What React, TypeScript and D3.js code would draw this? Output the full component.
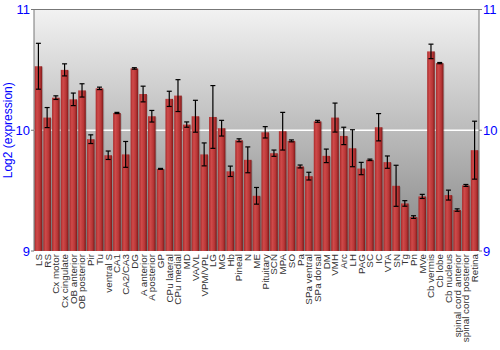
import React from "react";
import * as d3 from "d3";

const categories = ["LS","RS","Cx motor","Cx cingulate","OB anterior","OB posterior","Pir","Tu","ventral S","CA1","CA2/CA3","DG","A anterior","A posterior","GP","CPu lateral","CPu medial","MD","VA/VL","VPM/VPL","LG","MG","Hb","Pineal","N","ME","Pituitary","SCN","MPA","SO","Pa","SPa ventral","SPa dorsal","DM","VMH","Arc","LH","PAG","SC","IC","VTA","SN","Tg","Pn","MVe","Cb vermis","Cb lobe","Cb nucleus","spinal cord anterior","spinal cord posterior","Retina"];
const values = [10.53,10.105,10.27,10.5,10.256,10.33,9.926,10.347,9.793,10.143,9.8,10.512,10.3,10.116,9.68,10.26,10.287,10.047,10.116,9.8,10.11,10.017,9.66,9.917,9.755,9.457,9.983,9.81,9.992,9.912,9.7,9.62,10.074,9.788,10.105,9.953,9.851,9.683,9.755,10.025,9.736,9.54,9.394,9.281,9.452,10.653,10.556,9.463,9.339,9.543,9.835];
const errors = [0.19,0.083,0.015,0.05,0.052,0.055,0.036,0.01,0.035,0.005,0.107,0.006,0.065,0.048,0.004,0.063,0.132,0.022,0.132,0.095,0.26,0.065,0.043,0.012,0.107,0.069,0.047,0.026,0.156,0.008,0.012,0.032,0.008,0.056,0.12,0.072,0.153,0.051,0.006,0.113,0.051,0.17,0.023,0.011,0.017,0.06,0.005,0.041,0.01,0.008,0.24];
const yTicks = [9, 10, 11];

export default function App() {
  const W = 500, H = 350;
  const left = 34, right = 479, top = 9.5, bottom = 251;
  const x = d3.scaleBand<string>().domain(categories).range([left, right]).paddingInner(0.13).paddingOuter(0.07);
  const y = d3.scaleLinear().domain([9, 11]).range([bottom, top]);
  const font = "Liberation Sans, Arial, sans-serif";
  return (
    <svg width={W} height={H} style={{ position: "absolute", left: 0, top: 0, background: "#fff" }}>
      <defs>
        <linearGradient id="bg" x1="0" y1="0" x2="0" y2="1">
          <stop offset="0" stopColor="#f2f2f2" />
          <stop offset="1" stopColor="#858585" />
        </linearGradient>
        <linearGradient id="bar" x1="0" y1="0" x2="1" y2="0">
          <stop offset="0" stopColor="#a82a2a" />
          <stop offset="0.3" stopColor="#cf4a4a" />
          <stop offset="0.7" stopColor="#b83636" />
          <stop offset="1" stopColor="#7e1818" />
        </linearGradient>
      </defs>
      <rect x={left} y={top} width={right - left} height={bottom - top} fill="url(#bg)" />
      <line x1={left} x2={right} y1={y(10)} y2={y(10)} stroke="#fff" strokeWidth={1.5} />
      {categories.map((c, i) => {
        const bx = x(c)!;
        const bw = x.bandwidth();
        const yt = y(values[i]);
        const cx = bx + bw / 2;
        const e1 = y(values[i] + errors[i]);
        const e2 = y(values[i] - errors[i]);
        return (
          <g key={c}>
            <rect x={bx + 1} y={yt + 1} width={bw} height={bottom - yt - 1} fill="#000" opacity={0.15} />
            <rect x={bx} y={yt} width={bw} height={bottom - yt} fill="url(#bar)" />
            <line x1={cx} x2={cx} y1={e1} y2={e2} stroke="#000" strokeWidth={1.2} />
            <line x1={cx - 2.5} x2={cx + 2.5} y1={e1} y2={e1} stroke="#000" strokeWidth={1.2} />
            <line x1={cx - 2.5} x2={cx + 2.5} y1={e2} y2={e2} stroke="#000" strokeWidth={1.2} />
          </g>
        );
      })}
      <line x1={left} x2={right} y1={top} y2={top} stroke="#777" strokeWidth={1} />
      <line x1={left} x2={left} y1={top} y2={bottom} stroke="#777" strokeWidth={1} />
      <line x1={right} x2={right} y1={top} y2={bottom} stroke="#777" strokeWidth={1} />
      {yTicks.map((t) => (
        <g key={t}>
          <line x1={left - 3} x2={left} y1={y(t)} y2={y(t)} stroke="#777" />
          <line x1={right} x2={right + 3} y1={y(t)} y2={y(t)} stroke="#777" />
          <text x={left - 4} y={y(t)} dy="0.35em" textAnchor="end" fill="#0000ff" fontFamily={font} fontSize={13}>{t}</text>
          <text x={right + 4} y={y(t)} dy="0.35em" textAnchor="start" fill="#0000ff" fontFamily={font} fontSize={13}>{t}</text>
        </g>
      ))}
      <text transform={`translate(12,${(top + bottom) / 2}) rotate(-90)`} textAnchor="middle" fill="#0000ff" fontFamily={font} fontSize={12}>Log2 (expression)</text>
      {categories.map((c) => (
        <text key={c} transform={`translate(${x(c)! + x.bandwidth() / 2},${bottom + 3}) rotate(-90)`} textAnchor="end" dy="0.35em" fill="#333" fontFamily={font} fontSize={9.8}>{c}</text>
      ))}
    </svg>
  );
}
